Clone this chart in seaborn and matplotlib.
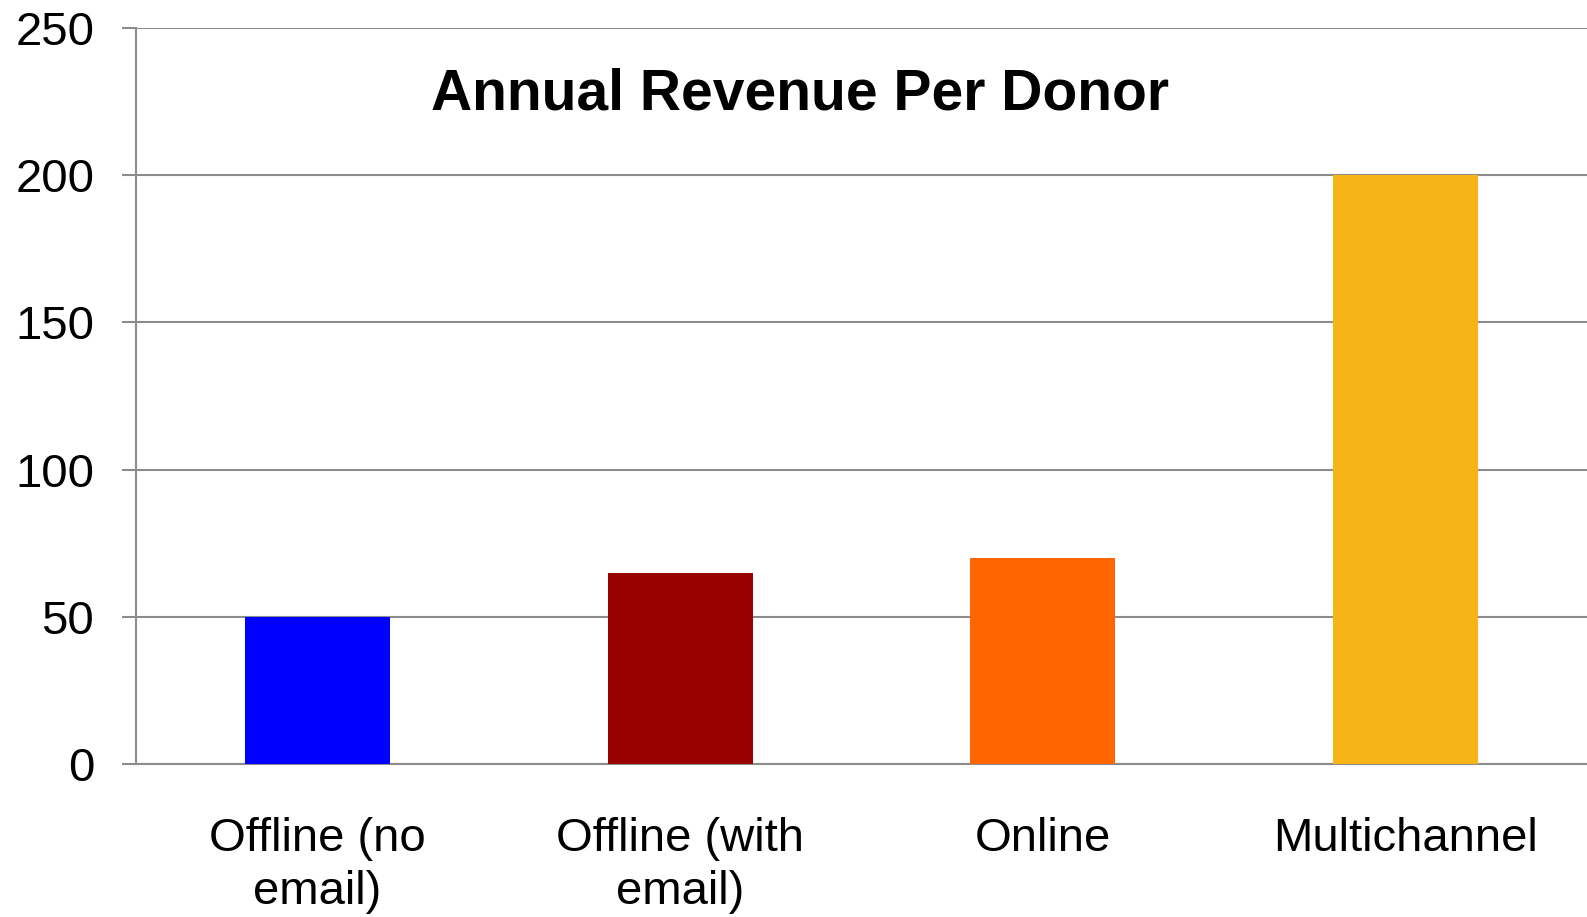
import numpy as np
import pandas as pd
import seaborn as sns
import matplotlib.pyplot as plt

# ---------------- DATA ----------------
categories = ["Offline (no\nemail)", "Offline (with\nemail)", "Online", "Multichannel"]
revenue = [50, 65, 70, 200]
bar_colors = ["#0000FF", "#990000", "#FF6600", "#F7B416"]
y_ticks = [0, 50, 100, 150, 200, 250]

df = pd.DataFrame({"channel": categories, "revenue": revenue})

# ---------------- STYLE ----------------
sns.set_style("white")
plt.rcParams["font.family"] = ["Liberation Sans", "DejaVu Sans"]
plt.rcParams["text.color"] = "black"
plt.rcParams["xtick.labelcolor"] = "black"
plt.rcParams["ytick.labelcolor"] = "black"
grid_col = "#8C8C8C"

fig = plt.figure(figsize=(15.87, 9.17), dpi=100)
ax = fig.add_axes([0.0857, 0.1669, 0.9143, 0.8026])

sns.barplot(
    data=df, x="channel", y="revenue", hue="channel",
    palette=bar_colors, legend=False, width=0.4, saturation=1,
    linewidth=0, ax=ax, zorder=3
)

ax.set_xlim(-0.5, len(categories) - 0.5)
ax.set_ylim(0, 250)
ax.set_yticks(y_ticks)
ax.set_xlabel("")
ax.set_ylabel("")

# gridlines
ax.set_axisbelow(True)
ax.yaxis.grid(True, color=grid_col, linewidth=1.5)
ax.xaxis.grid(False)

# spines
for s in ["top", "right"]:
    ax.spines[s].set_visible(False)
for s in ["left", "bottom"]:
    ax.spines[s].set_color(grid_col)
    ax.spines[s].set_linewidth(1.5)

# category-boundary ticks on x
ax.set_xticks(np.arange(-0.5, len(categories) + 0.5, 1.0), minor=True)
ax.tick_params(axis="x", which="major", length=0, labelsize=34, pad=38, labelcolor="black")
ax.tick_params(axis="x", which="minor", length=11.5, width=1.5, color=grid_col, direction="out")
ax.tick_params(axis="y", length=10, width=1.5, color=grid_col, labelsize=34, pad=20,
               direction="out", labelcolor="black")
ax.tick_params(left=True, bottom=True)
for lbl in ax.get_xticklabels():
    lbl.set_linespacing(1.26)

fig.text(0.504, 0.881, "Annual Revenue Per Donor", ha="center", va="baseline",
         fontsize=41, fontweight="bold", color="black")

plt.savefig("out.png", dpi=100)
